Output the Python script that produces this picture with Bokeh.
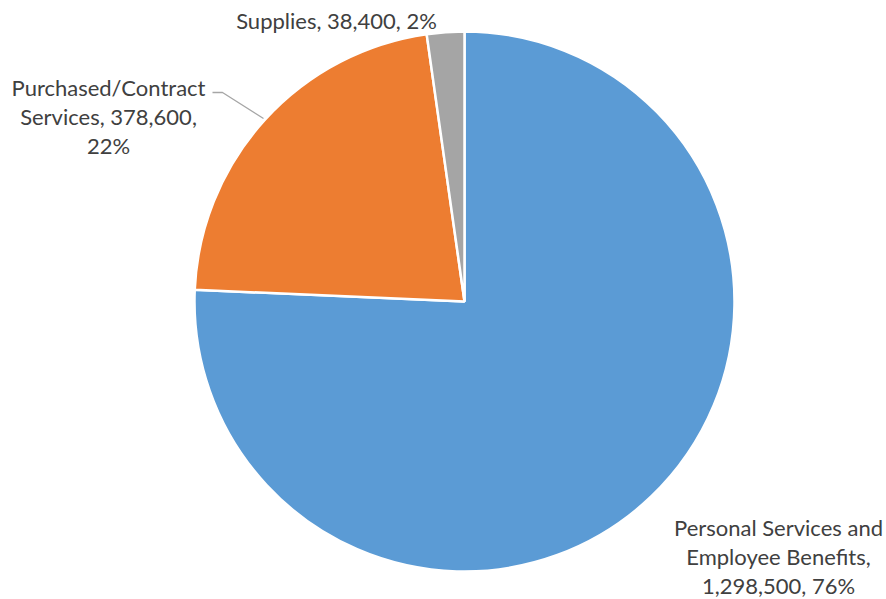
import math
from bokeh.plotting import figure
from bokeh.models import ColumnDataSource, Range1d
from bokeh.core.properties import value
from bokeh.embed import file_html
from bokeh.resources import INLINE

# data
categories = ["Personal Services and Employee Benefits", "Purchased/Contract Services", "Supplies"]
amounts = [1298500, 378600, 38400]
colors = ["#5B9BD5", "#ED7D31", "#A5A5A5"]
label_lines = [
    ["Personal Services and", "Employee Benefits,", "{v}, {p}%"],
    ["Purchased/Contract", "Services, {v},", "{p}%"],
    ["Supplies, {v}, {p}%"],
]

W, H = 886, 599
cx, cy, r = 464, H - 301, 270

total = sum(amounts)
fracs = [a / total for a in amounts]
starts, ends = [], []
ang = math.pi / 2
for f in fracs:
    starts.append(ang)
    ang -= f * 2 * math.pi
    ends.append(ang)

p = figure(width=W, height=H, output_backend="svg", toolbar_location=None,
           x_range=Range1d(0, W), y_range=Range1d(0, H), min_border=0)
p.axis.visible = False
p.grid.visible = False
p.outline_line_color = None
p.background_fill_color = "white"
p.border_fill_color = "white"

src = ColumnDataSource(dict(x=[cx] * 3, y=[cy] * 3, s=starts, e=ends, c=colors, cat=categories))
p.wedge(x="x", y="y", radius=r, start_angle="s", end_angle="e", direction="clock",
        fill_color="c", line_color="white", line_width=2.5, source=src)

# leader line for Purchased/Contract
p.line(x=[212, 222, 263], y=[H - 92, H - 92, H - 118],
       line_color="#A6A6A6", line_width=1.3)

font = value("Lato")
fs = "22px"
lh = 29
# label anchors (screen px of first line center)
anchors = [(778, 527), (108, 87), (336, 20)]
for i, (ax, ay) in enumerate(anchors):
    pct = round(fracs[i] * 100)
    for j, line in enumerate(label_lines[i]):
        t = line.format(v=f"{amounts[i]:,}", p=pct)
        p.text(x=[ax], y=[H - (ay + j * lh)], text=[t], text_font=font,
               text_font_size=fs, text_color="#404040", text_align="center",
               text_baseline="middle")

open("out.html", "w").write(file_html(p, INLINE))
